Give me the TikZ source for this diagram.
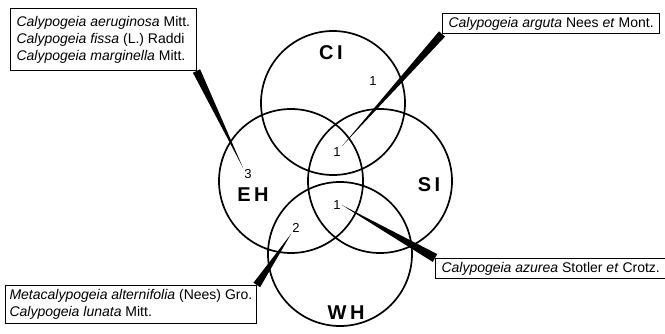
\documentclass[tikz,border=0pt]{standalone}
\usepackage{fontspec}
\setmainfont{Liberation Sans}
\newfontfamily\regionfont[LetterSpace=18]{Liberation Sans}
\usetikzlibrary{calc}
\pgfdeclarelayer{background}
\pgfsetlayers{background,main}
\tikzset
    { region/.style =
        { circle, draw, line width=1.7pt, minimum size=144pt, inner sep=0pt }
    , region label/.style =
        { font=\fontsize{20}{20}\selectfont\regionfont\bfseries }
    , count/.style =
        { font=\fontsize{13}{13}\selectfont, inner sep=1pt }
    , species box/.style =
        { draw, fill=white, line width=1pt, inner xsep=6pt, inner ysep=2pt
        , align=left, font=\fontsize{14}{17}\selectfont
        }
    , pointer/.style = { fill=black }
    }
% tapering callout: thin at #1, #3 wide at #2
\newcommand\pointerwedge[3]
    { \fill[pointer] (#1) -- ($(#2)!#3!90:(#1)$) -- ($(#2)!#3!-90:(#1)$) -- cycle; }

\begin{document}
\begin{tikzpicture}[x=1pt, y=-1pt]

            \useasboundingbox (0, 0) rectangle (665, 333);

            \node[region] (ci) at (333, 103) {};
            \node[region] (eh) at (291, 181) {};
            \node[region] (si) at (380, 181) {};
            \node[region] (wh) at (340, 254) {};

            \node[region label] (ci label) at (331, 53) {CI};
            \node[region label] (eh label) at (253, 195) {EH};
            \node[region label] (si label) at (429, 185) {SI};
            \node[region label] (wh label) at (346, 313) {WH};

            \node[count] (n ci) at (373, 81) {1};
            \node[count] (n eh) at (248, 174) {3};
            \node[count] (n cisi) at (337, 152) {1};
            \node[count] (n siwh) at (337, 205) {1};
            \node[count] (n ehwh) at (296, 228) {2};

            \node[species box, minimum height=62pt, anchor=north west] (eh box) at (10, 8)
                {\textit{Calypogeia aeruginosa} Mitt.\\
                 \textit{Calypogeia fissa} (L.) Raddi\\
                 \textit{Calypogeia marginella} Mitt.};
            \node[species box, minimum height=20pt, anchor=north west] (cisi box) at (442, 13)
                {\textit{Calypogeia arguta} Nees \textit{et} Mont.};
            \node[species box, minimum height=20pt, anchor=north west] (siwh box) at (435, 258)
                {\textit{Calypogeia azurea} Stotler \textit{et} Crotz.};
            \node[species box, minimum height=38pt, anchor=north west, inner xsep=4pt] (ehwh box) at (5, 285)
                {\textit{Metacalypogeia alternifolia} (Nees) Gro.\\
                 \textit{Calypogeia lunata} Mitt.};

            \begin{pgfonlayer}{background}
                \pointerwedge{n eh.north west}{eh box.south east}{4pt}
                \pointerwedge{n cisi.north east}{cisi box.south west}{4pt}
                \pointerwedge{n siwh.east}{siwh box.north west}{4.5pt}
                \pointerwedge{n ehwh.south west}{ehwh box.north east}{4pt}
            \end{pgfonlayer}

        \end{tikzpicture}
\end{document}
